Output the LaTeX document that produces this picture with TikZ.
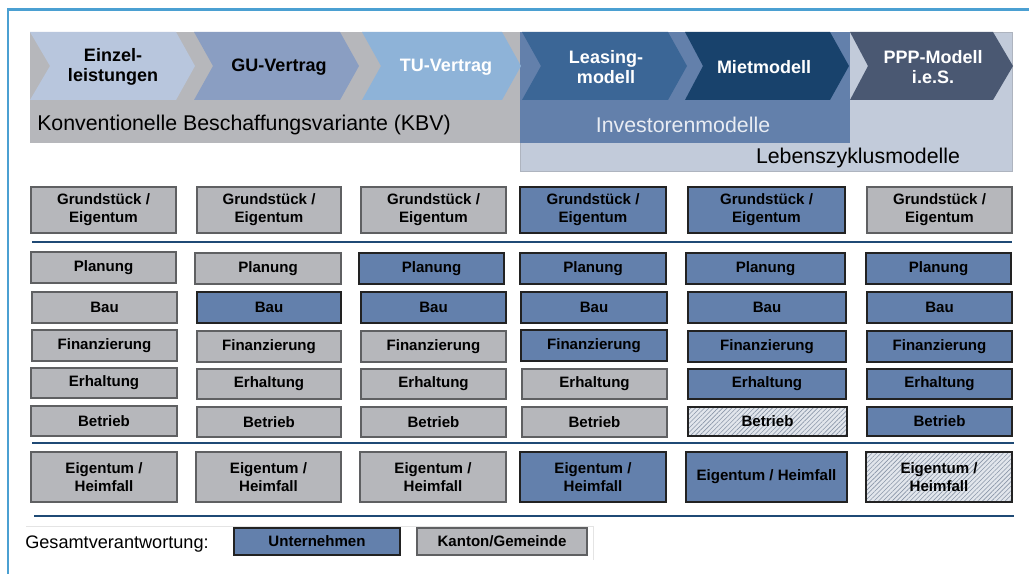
\documentclass[tikz,border=0pt]{standalone}
\usepackage{fontspec}
\setmainfont{Liberation Sans}
\usetikzlibrary{patterns.meta}
\definecolor{frame}{HTML}{4BA0D2}
\definecolor{kbv}{HTML}{B6B7BB}
\definecolor{ceinzel}{HTML}{B8C6DD}
\definecolor{cgu}{HTML}{8A9EC2}
\definecolor{ctu}{HTML}{8EB3D8}
\definecolor{invbg}{HTML}{6380AB}
\definecolor{cleas}{HTML}{3B6696}
\definecolor{cmiet}{HTML}{18426C}
\definecolor{cppp}{HTML}{4A5872}
\definecolor{lebens}{HTML}{C2CBDA}
\definecolor{boxgray}{HTML}{B6B7BB}
\definecolor{bordgray}{HTML}{5F6062}
\definecolor{boxblue}{HTML}{6380AC}
\definecolor{bordblue}{HTML}{222222}
\definecolor{sepline}{HTML}{1F4A75}
\definecolor{hatchbg}{HTML}{E2E6EC}
\definecolor{hatchln}{HTML}{8A96A8}
\definecolor{invtext}{HTML}{E8ECF3}
\definecolor{legframe}{HTML}{E4E4E4}
\tikzset{
  cellbase/.style={inner sep=0pt, align=center, font=\fontsize{11.3}{13.6}\selectfont\bfseries, line width=1.1pt},
  gcell/.style={cellbase, fill=boxgray, draw=bordgray},
  bcell/.style={cellbase, fill=boxblue, draw=bordblue},
  hcell/.style={cellbase, draw=bordblue, preaction={fill=hatchbg}, pattern={Lines[angle=45,distance=2.4pt,line width=0.45pt]}, pattern color=hatchln},
  chevtext/.style={align=center, font=\fontsize{13.5}{15}\selectfont\bfseries, inner sep=0pt},
  bandtext/.style={font=\fontsize{16}{18}\selectfont, inner sep=0pt},
  sep/.style={draw=sepline, line width=1.9pt}
}
\newcommand{\bx}[7]{\node[#6, minimum width={(#4-#2)*0.75pt}, minimum height={(#5-#3)*0.75pt}] (#1) at ({(#2+#4)/2},{(#3+#5)/2}) {#7};}
\newcommand{\chev}[5]{% x-left, notch, corner, tip, color
  \fill[#5] (#1,32) -- (#3,32) -- (#4,66) -- (#3,100) -- (#1,100) -- (#2,66) -- cycle;}
\begin{document}
\begin{tikzpicture}[x=0.75pt,y=-0.75pt]
\useasboundingbox (0,0) rectangle (1029,574);
\fill[white] (0,0) rectangle (1029,574);
% frame
\draw[frame, line width=1.6pt] (8,574) -- (8,9.5) -- (1029,9.5);
% band backgrounds
\fill[lebens] (520,32) rectangle (1012,171);
\draw[draw=lebens!70!gray, line width=0.4pt] (520,32) rectangle (1012,171);
\fill[kbv] (30,32) rectangle (520,143);
\fill[invbg] (520,32) rectangle (850,143);
% chevrons
\chev{30}{50}{176}{195}{ceinzel}
\chev{194}{213}{340}{359}{cgu}
\chev{362}{381}{502}{521}{ctu}
\chev{522}{541}{668}{687}{cleas}
\chev{685}{703}{830}{849}{cmiet}
\chev{850}{868}{993}{1013}{cppp}
\node[chevtext] (c1) at (113,67) {Einzel-\\leistungen};
\node[chevtext] (c2) at (279,67) {GU-Vertrag};
\node[chevtext, text=white] (c3) at (446,67) {TU-Vertrag};
\node[chevtext, text=white] (c4) at (606,67) {Leasing-\\modell};
\node[chevtext, text=white] (c5) at (764,67) {Mietmodell};
\node[chevtext, text=white] (c6) at (933,67) {PPP-Modell\\i.e.S.};
\node[bandtext, anchor=west] (kbv) at (37,125) {Konventionelle Beschaffungsvariante (KBV)};
\node[bandtext, text=invtext] (inv) at (683,125) {Investorenmodelle};
\node[bandtext] (leb) at (858,158) {Lebenszyklusmodelle};
% row Grundstueck
\bx{g1}{31}{187}{176}{233}{gcell}{Grundstück /\\Eigentum}
\bx{g2}{197}{187}{341}{233}{gcell}{Grundstück /\\Eigentum}
\bx{g3}{361}{187}{506}{233}{gcell}{Grundstück /\\Eigentum}
\bx{g4}{520}{187}{666}{233}{bcell}{Grundstück /\\Eigentum}
\bx{g5}{688}{187}{845}{233}{bcell}{Grundstück /\\Eigentum}
\bx{g6}{867}{187}{1012}{233}{gcell}{Grundstück /\\Eigentum}
\draw[sep] (32,242) -- (1012,242);
% Planung
\bx{p1}{31}{252}{176}{283}{gcell}{Planung}
\bx{p2}{195}{253}{341}{284}{gcell}{Planung}
\bx{p3}{359}{253}{504}{284}{bcell}{Planung}
\bx{p4}{520}{253}{666}{284}{bcell}{Planung}
\bx{p5}{686}{253}{845}{284}{bcell}{Planung}
\bx{p6}{866}{253}{1011}{284}{bcell}{Planung}
% Bau
\bx{b1}{32}{292}{177}{323}{gcell}{Bau}
\bx{b2}{197}{292}{341}{323}{bcell}{Bau}
\bx{b3}{361}{292}{506}{323}{bcell}{Bau}
\bx{b4}{521}{292}{667}{323}{bcell}{Bau}
\bx{b5}{688}{292}{846}{323}{bcell}{Bau}
\bx{b6}{867}{292}{1012}{323}{bcell}{Bau}
% Finanzierung
\bx{f1}{32}{330}{177}{361}{gcell}{Finanzierung}
\bx{f2}{197}{331}{341}{362}{gcell}{Finanzierung}
\bx{f3}{361}{331}{506}{362}{gcell}{Finanzierung}
\bx{f4}{521}{330}{667}{361}{bcell}{Finanzierung}
\bx{f5}{688}{331}{846}{362}{bcell}{Finanzierung}
\bx{f6}{867}{331}{1012}{362}{bcell}{Finanzierung}
% Erhaltung
\bx{e1}{31}{368}{177}{398}{gcell}{Erhaltung}
\bx{e2}{197}{369}{341}{399}{gcell}{Erhaltung}
\bx{e3}{361}{369}{506}{399}{gcell}{Erhaltung}
\bx{e4}{522}{369}{667}{399}{gcell}{Erhaltung}
\bx{e5}{688}{369}{846}{399}{bcell}{Erhaltung}
\bx{e6}{867}{369}{1012}{399}{bcell}{Erhaltung}
% Betrieb
\bx{r1}{31}{406}{177}{436}{gcell}{Betrieb}
\bx{r2}{197}{407}{341}{437}{gcell}{Betrieb}
\bx{r3}{361}{407}{506}{437}{gcell}{Betrieb}
\bx{r4}{522}{407}{667}{437}{gcell}{Betrieb}
\bx{r5}{688}{407}{847}{436}{hcell}{Betrieb}
\bx{r6}{867}{407}{1012}{436}{bcell}{Betrieb}
\draw[sep] (32,443) -- (1014,443);
% Eigentum / Heimfall
\bx{h1}{31}{452}{177}{502}{gcell}{Eigentum /\\Heimfall}
\bx{h2}{196}{452}{341}{502}{gcell}{Eigentum /\\Heimfall}
\bx{h3}{360}{452}{506}{502}{gcell}{Eigentum /\\Heimfall}
\bx{h4}{520}{452}{666}{502}{bcell}{Eigentum /\\Heimfall}
\bx{h5}{686}{452}{847}{502}{bcell}{Eigentum / Heimfall}
\bx{h6}{866}{452}{1012}{502}{hcell}{Eigentum /\\Heimfall}
\draw[sep] (34,516) -- (1014,516);
% legend
\draw[legframe, line width=0.6pt] (26,526) -- (593,526) -- (593,560);
\node[font=\fontsize{13.6}{16}\selectfont, anchor=west, inner sep=0pt] (gv) at (25,544) {Gesamtverantwortung:};
\bx{lu}{234}{528}{400}{555}{bcell}{Unternehmen}
\bx{lk}{417}{528}{587}{555}{gcell}{Kanton/Gemeinde}
\end{tikzpicture}
\end{document}
